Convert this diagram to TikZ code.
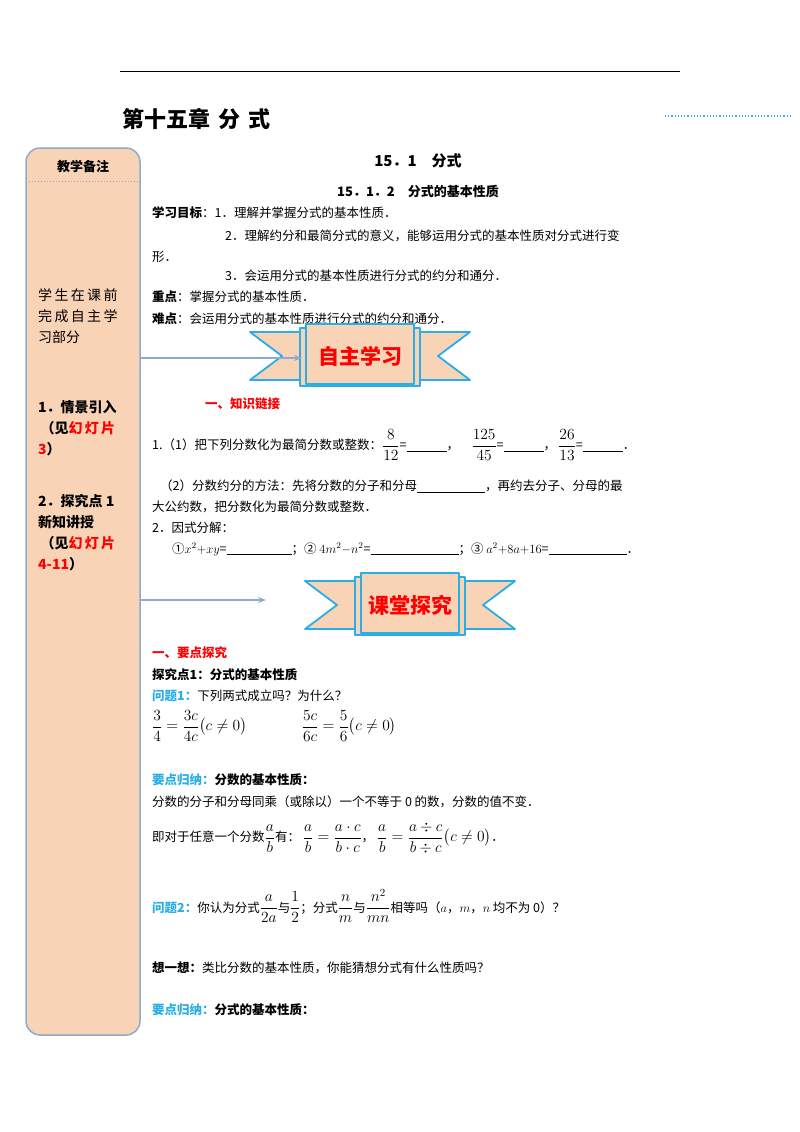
\RequirePackage{fix-cm}
\documentclass[tikz,border=0pt]{standalone}
\usepackage{amsmath}
\usepackage{fontspec}
\setmainfont{Liberation Serif}
\newfontfamily\cjk{Noto Sans CJK SC}
\usetikzlibrary{arrows.meta}
\definecolor{peach}{HTML}{F9D3B6}
\definecolor{edge}{HTML}{8FA9D0}
\definecolor{cyanb}{HTML}{2AAEE6}
\definecolor{red1}{HTML}{FF0000}
\tikzset{
  t/.style={anchor=west,inner sep=0pt,font=\fontsize{12.5}{15}\cjk},
  side/.style={anchor=north west,inner sep=0pt,align=left,font=\fontsize{14}{21}\cjk},
  arr/.style={draw=edge,line width=1.2pt,-{Stealth[length=8pt]}},
  ribbon/.style={fill=peach,draw=cyanb,line width=1.8pt,line join=round},
}
\newcommand{\redt}[1]{\textcolor{red1}{#1}}
\newcommand{\blk}{\rule[-2pt]{40pt}{0.6pt}}
\newcommand{\bm}[1]{{\fontsize{15.5}{18}\selectfont$#1$}}
\newcommand{\ribbonat}[5]{% cx cy halfwidth halfheight label
  \begin{scope}[shift={(#1,#2)}]
  \path[ribbon] (-#3,-#4) -- (-#3+60,-#4) -- (-#3+60,#4) -- (-#3,#4) -- (-#3+32,0) -- cycle;
  \path[ribbon] (#3,-#4) -- (#3-60,-#4) -- (#3-60,#4) -- (#3,#4) -- (#3-32,0) -- cycle;
  \path[ribbon] (-#3+50,-#4-4) rectangle (#3-50,#4+6);
  \path[ribbon] (-#3+56,-#4-8) rectangle (#3-56,#4+4);
  \node[inner sep=0pt,font=\fontsize{21}{24}\cjk\bfseries,text=red1] at (0,0) {#5};
  \end{scope}}
\begin{document}
\begin{tikzpicture}[x=1pt,y=-1pt]
\useasboundingbox (0,0) rectangle (800,1132);
\fill[white] (0,0) rectangle (800,1132);
\draw[line width=1pt] (120,72) -- (680,72);
\node[t,font=\fontsize{22}{24}\cjk\bfseries] (ch) at (122,119) {第十五章\hspace{8pt}分\hspace{8pt}式};
\draw[cyanb,dotted,line width=1.2pt] (665,116) -- (790,116);
% sidebar
\draw[fill=peach,draw=edge,line width=1.5pt,rounded corners=14pt] (26,148) rectangle (140,1035);
\draw[edge,dotted,line width=1pt] (26,181) -- (140,181);
\node[inner sep=0pt,font=\fontsize{13}{15}\cjk\bfseries] (bz) at (83,167) {教学备注};
\node[side] (s1) at (38,288) {学\,生\,在\,课\,前\\完\,成\,自\,主\,学\\习部分};
\node[side,font=\fontsize{14}{21}\cjk\bfseries] (s2) at (38,400) {1．情景引入\\\,（见\redt{幻\,灯\,片}\\\redt{3}）};
\node[side,font=\fontsize{14}{21}\cjk\bfseries] (s3) at (38,494) {2．探究点 1\\新知讲授\\\,（见\redt{幻\,灯\,片}\\\redt{4-11}）};
\coordinate (a1) at (140,358); \coordinate (a1e) at (302,358);
\coordinate (a2) at (140,600); \coordinate (a2e) at (266,600);
% titles
\node[inner sep=0pt,font=\fontsize{15}{18}\cjk\bfseries] (h1) at (418,161) {15．1\quad 分式};
\node[inner sep=0pt,font=\fontsize{13}{16}\cjk\bfseries] (h2) at (418,191) {15．1．2\quad 分式的基本性质};
\node[t] (l1) at (152,213) {\textbf{学习目标}：1．理解并掌握分式的基本性质．};
\node[t] (l2) at (225,236) {2．理解约分和最简分式的意义，能够运用分式的基本性质对分式进行变};
\node[t] (l3) at (152,257) {形．};
\node[t] (l4) at (225,276) {3．会运用分式的基本性质进行分式的约分和通分．};
\node[t] (l5) at (152,297) {\textbf{重点}：掌握分式的基本性质．};
\node[t] (l6) at (152,319) {\textbf{难点}：会运用分式的基本性质进行分式的约分和通分．};
\ribbonat{360}{356}{110}{24}{自主学习}
\draw[arr] (a1) -- (a1e);
\node[t,text=red1,font=\fontsize{12.5}{15}\cjk\bfseries] (k1) at (205,404) {一、知识链接};
\node[t] (q1) at (152,445) {1.（1）把下列分数化为最简分数或整数：\bm{\dfrac{8}{12}}=\blk，\quad\bm{\dfrac{125}{45}}=\blk，\,\bm{\dfrac{26}{13}}=\blk．};
\node[t] (q2) at (160,486) {（2）分数约分的方法：先将分数的分子和分母\rule[-2pt]{68pt}{0.6pt}，再约去分子、分母的最};
\node[t] (q3) at (152,507) {大公约数，把分数化为最简分数或整数．};
\node[t] (q4) at (152,528) {2．因式分解：};
\node[t] (q5) at (172,549) {①$x^2{+}xy$=\rule[-2pt]{65pt}{0.6pt}；② $4m^2{-}n^2$=\rule[-2pt]{88pt}{0.6pt}；③ $a^2{+}8a{+}16$=\rule[-2pt]{78pt}{0.6pt}．};
\ribbonat{410}{605}{105}{24}{课堂探究}
\draw[arr] (a2) -- (a2e);
\node[t,text=red1,font=\fontsize{12.5}{15}\cjk\bfseries] (y1) at (152,653) {一、要点探究};
\node[t,font=\fontsize{12.5}{15}\cjk\bfseries] (y2) at (152,675) {探究点1：分式的基本性质};
\node[t] (y3) at (152,696) {\textcolor{cyanb}{\textbf{问题1：}}下列两式成立吗？为什么？};
\node[t] (y4) at (152,726) {\bm{\dfrac{3}{4}=\dfrac{3c}{4c}\big(c\neq0\big)}\hspace{55pt}\bm{\dfrac{5c}{6c}=\dfrac{5}{6}\big(c\neq0\big)}};
\node[t] (y5) at (152,780) {\textcolor{cyanb}{\textbf{要点归纳：}}\textbf{分数的基本性质：}};
\node[t] (y6) at (152,802) {分数的分子和分母同乘（或除以）一个不等于 0 的数，分数的值不变．};
\node[t] (y7) at (152,838) {即对于任意一个分数\bm{\dfrac{a}{b}}有：\ \bm{\dfrac{a}{b}=\dfrac{a\cdot c}{b\cdot c}}，\ \bm{\dfrac{a}{b}=\dfrac{a\div c}{b\div c}\big(c\neq0\big)}．};
\node[t] (y8) at (152,906) {\textcolor{cyanb}{\textbf{问题2：}}你认为分式\bm{\dfrac{a}{2a}}与\bm{\dfrac{1}{2}}；分式\bm{\dfrac{n}{m}}与\bm{\dfrac{n^2}{mn}}相等吗（$a$，$m$，$n$ 均不为 0）？};
\node[t] (y9) at (152,968) {\textbf{想一想：}类比分数的基本性质，你能猜想分式有什么性质吗？};
\node[t] (y10) at (152,1010) {\textcolor{cyanb}{\textbf{要点归纳：}}\textbf{分式的基本性质：}};
\end{tikzpicture}
\end{document}
